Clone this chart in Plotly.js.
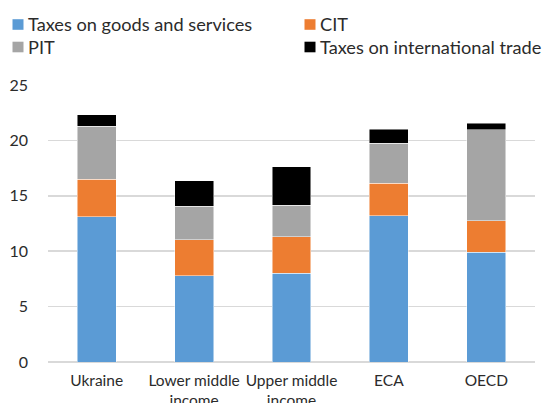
<!DOCTYPE html>
<html><head><meta charset="utf-8">
<script src="https://cdn.plot.ly/plotly-3.0.1.min.js"></script>
<style>body{margin:0;background:#fff}#c{width:548px;height:403px}</style>
</head><body><div id="c"></div>
<script>
const categories = ["Ukraine", "Lower middle<br>income", "Upper middle<br>income", "ECA", "OECD"];
const goodsServices = [13.1, 7.8, 8.0, 13.2, 9.9];
const cit = [3.4, 3.25, 3.3, 2.95, 2.85];
const pit = [4.8, 3.0, 2.85, 3.6, 8.2];
const intlTrade = [1.0, 2.3, 3.45, 1.25, 0.6];
const seriesNames = ["Taxes on goods and services", "CIT", "PIT", "Taxes on international trade"];
const seriesColors = ["#5B9BD5", "#ED7D31", "#A5A5A5", "#000000"];
const seriesValues = [goodsServices, cit, pit, intlTrade];

const W = 548, H = 403, M = {l: 48, r: 13, t: 85, b: 41};
const pw = W - M.l - M.r, ph = H - M.t - M.b;
const px2x = p => (p - M.l) / pw;
const py2y = p => (H - M.b - p) / ph;

const traces = seriesValues.map((v, i) => ({
  type: "bar", x: categories, y: v, name: seriesNames[i],
  marker: {color: seriesColors[i], line: {color: "rgba(255,255,255,0.6)", width: 0.8}},
  hoverinfo: "none", showlegend: false
}));

// custom legend (two columns, row-major order)
const legendPos = [[12.5, 24.5], [304.5, 24.5], [12.5, 47], [304.5, 47]];
const shapes = [], annotations = [];
seriesNames.forEach((n, i) => {
  const [lx, ly] = legendPos[i];
  shapes.push({type: "rect", xref: "paper", yref: "paper",
    x0: px2x(lx), x1: px2x(lx + 11), y0: py2y(ly + 5.3), y1: py2y(ly - 5.3),
    fillcolor: seriesColors[i], line: {width: 0}});
  annotations.push({xref: "paper", yref: "paper", x: px2x(lx + 13), y: py2y(ly - 0.5),
    xanchor: "left", yanchor: "middle", showarrow: false, text: n,
    font: {size: 18.2, color: "#2b2b2b"}});
});

const layout = {
  width: W, height: H,
  margin: M,
  barmode: "stack", bargap: 0.6,
  paper_bgcolor: "#fff", plot_bgcolor: "#fff",
  font: {family: "Lato, 'Open Sans', sans-serif", color: "#333333", size: 14},
  xaxis: {tickfont: {size: 15.5, color: "#2b2b2b"}, showline: false, ticks: "", ticklabelstandoff: 7, fixedrange: true},
  yaxis: {range: [0, 25], dtick: 5, tick0: 0, showgrid: true, gridcolor: "#D9D9D9", gridwidth: 1.5,
          zeroline: true, zerolinecolor: "#D9D9D9", zerolinewidth: 2,
          tickfont: {size: 16, color: "#2b2b2b"}, ticklabelstandoff: 19, fixedrange: true},
  showlegend: false,
  shapes: shapes,
  annotations: annotations
};
Plotly.newPlot("c", traces, layout, {displayModeBar: false, staticPlot: true});
</script></body></html>
